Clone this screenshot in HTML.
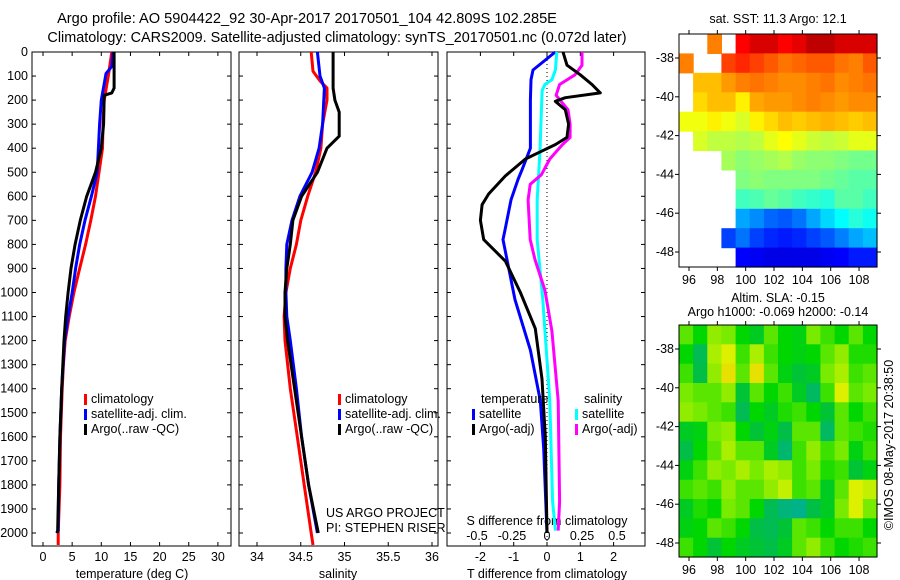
<!DOCTYPE html>
<html><head><meta charset="utf-8">
<style>
body{margin:0;background:#fff;}
svg{display:block;font-family:"Liberation Sans",sans-serif;}
text{font-size:12.5px;fill:#000;}
</style></head>
<body>
<svg id="chart" width="900" height="580" xmlns="http://www.w3.org/2000/svg">
<text x="307" y="23" text-anchor="middle" style="font-size:14.6px">Argo profile: AO 5904422_92 30-Apr-2017 20170501_104 42.809S 102.285E</text>
<text x="337" y="42" text-anchor="middle" style="font-size:14.4px">Climatology: CARS2009. Satellite-adjusted climatology: synTS_20170501.nc (0.072d later)</text>
<g id="g"></g>
</svg>
<script>
// ---------- data ----------
const depthTicks=[0,100,200,300,400,500,600,700,800,900,1000,1100,1200,1300,1400,1500,1600,1700,1800,1900,2000];
const tempTicks=[0,5,10,15,20,25,30];
const salTicks=[34,34.5,35,35.5,36];
const tdiffTicks=[-2,-1,0,1,2];
const sdiffTicks=[-0.5,-0.25,0,0.25,0.5];
const sdiffLabels=['-0.5','-0.25','0','0.25','0.5'];
const lonTicks=[96,98,100,102,104,106,108];
const latTicks=[-38,-40,-42,-44,-46,-48];

const tArgoDepth=[0,150,170,180,300,400,500,600,700,800,900,1000,1100,1200,1400,1600,1800,2000];
const tArgo=[12.2,12.2,11.8,10.5,10.4,10.0,9.0,7.5,6.4,5.5,4.8,4.3,3.9,3.6,3.2,2.9,2.7,2.5];
const tClimDepth=[0,100,200,300,400,500,600,700,800,900,1000,1100,1200,1300,1400,1600,1800,2000,2050];
const tClim=[11.8,11.2,10.5,10.3,10.2,9.6,9.0,8.2,7.3,6.3,5.3,4.5,3.8,3.5,3.3,3.0,2.9,2.6,2.6];
const tSatDepth=[0,60,90,200,300,400,500,600,700,800,900,1000,1100,1200,1400,1600,1800,1990,2000];
const tSat=[12.0,11.8,10.8,10.0,9.7,9.5,9.3,8.3,7.2,6.3,5.6,5.0,4.3,3.7,3.2,2.9,2.7,2.6,2.3];

const sArgoDepth=[0,150,200,250,350,400,500,600,700,800,900,1000,1100,1200,1400,1600,1800,2000];
const sArgo=[34.87,34.87,34.89,34.94,34.94,34.80,34.69,34.51,34.41,34.38,34.34,34.32,34.32,34.35,34.43,34.51,34.59,34.70];
const sClimDepth=[0,80,120,150,200,300,400,500,600,700,800,900,1000,1100,1200,1400,1600,1800,2000,2050];
const sClim=[34.62,34.64,34.72,34.80,34.80,34.75,34.73,34.67,34.58,34.50,34.45,34.38,34.33,34.31,34.32,34.38,34.46,34.54,34.62,34.64];
const sSatDepth=[0,100,150,300,400,500,600,700,800,900,1000,1100,1200,1400,1600,1800,2000];
const sSat=[34.69,34.72,34.77,34.75,34.71,34.63,34.49,34.40,34.34,34.33,34.33,34.34,34.38,34.45,34.51,34.59,34.69];

const dTArgoDepth=[0,55,95,135,170,190,205,240,300,355,385,415,445,515,590,635,700,780,870,1000,1150,1360,1600,2000];
const dTArgo=[0.48,0.6,1.0,1.35,1.6,0.55,0.25,0.55,0.65,0.6,0.25,-0.2,-0.65,-1.25,-1.75,-1.95,-2.0,-1.9,-1.25,-0.8,-0.35,-0.15,-0.05,0];
const dTSatDepth=[0,75,115,200,400,490,530,615,740,780,1030,1240,1450,1650,2000];
const dTSat=[0.25,-0.42,-0.48,-0.5,-0.5,-0.75,-0.87,-1.08,-1.26,-1.32,-0.96,-0.5,-0.2,-0.1,0];
const dSSatDepth=[0,75,115,135,160,410,615,780,1030,1450,1870,1990];
const dSSat=[0.07,0.06,0.035,-0.015,-0.035,-0.05,-0.07,-0.07,-0.03,0.02,0.04,0.06];
const dSArgoDepth=[0,55,95,135,180,240,300,355,385,445,510,550,615,780,865,990,1160,1450,1870,1990];
const dSArgo=[0.25,0.25,0.2,0.09,0.065,0.15,0.165,0.165,0.11,0.02,-0.04,-0.12,-0.135,-0.12,-0.085,-0.015,0.035,0.08,0.09,0.08];

const N=NaN;
const sstGrid=[
[N,N,13.5,N,14.5,14.8,14.8,14.5,14.7,15,15,14.8,14.8,14.8],
[13.5,N,N,14,14.2,14,13.8,13.6,13.7,13.8,13.8,13.6,13.5,13.8],
[N,13,13,13.3,13.5,13.6,13.5,13.4,13.4,13.5,13.6,13.4,13.5,13.6],
[N,12.8,13,13,12.6,13.2,13.3,13.3,13.4,13.5,13.4,13.3,13.4,13.4],
[12.4,12.4,12.6,12.4,12.2,12.6,12.8,13,12.9,13,13.1,13,12.9,13],
[N,12.2,12,12,11.9,12,12.3,12.5,12.3,12.1,12,12.1,12.3,12.3],
[N,N,N,11.8,11.6,11.7,11.8,11.9,11.7,11.6,11.6,11.5,11.4,11.4],
[N,N,N,N,11.5,11.6,11.5,11.5,11.5,11.5,11.4,11.3,11.2,11.2],
[N,N,N,N,11,11.1,11.3,11.2,11,10.9,10.8,11.2,11.2,11],
[N,N,N,N,9.8,9.6,9.3,9.2,9.4,9.8,10.2,10.5,10.8,10.6],
[N,N,N,9,9.4,9,8.8,8.7,8.8,9,9.2,9.5,9.8,10],
[N,N,N,N,8.5,8.4,8.3,8.3,8.3,8.3,8.4,8.5,8.7,8.7]];
const slaGrid=[
[0.3,0,0.5,0.4,0,-0.2,0.3,0,-0.1,0.4,0.2,0,0.3,0],
[0,-0.5,0.6,0.8,0.2,0.6,0.2,0,-0.1,0,0.3,0.5,0.1,0.1],
[0.2,-0.4,0.5,0.9,0.3,0.9,0.3,-0.1,-0.3,-0.2,0.4,0.6,0.2,0.3],
[0.4,0.3,0.3,0.5,-0.3,0.3,0,0.2,-0.2,-0.6,0.2,0.8,0.3,0.4],
[0.5,0.4,0.3,0.2,-0.5,0,-0.2,0.1,0.2,0,-0.3,0.3,0,0.2],
[-0.2,-0.1,0.4,0.5,0,-0.3,-0.1,-0.4,0.3,0.3,-0.6,0.3,0.2,0.1],
[-0.4,0,0.3,0.6,0.3,0.3,-0.2,-0.7,0.2,0.5,0.2,0.4,-0.1,0.2],
[-0.1,0.2,0.5,0.4,0.6,0.4,0.6,0.5,0.2,0.4,0.1,0.2,-0.3,-0.1],
[0.2,0.3,0.2,0.5,0.3,0.3,0.5,0.7,0.2,0.3,-0.2,0.3,0.8,0.7],
[-0.2,0.1,0,0.4,0.3,0,-0.5,-0.8,-0.9,-0.4,-0.2,0.4,0.8,0.4],
[-0.1,0,0.3,0.2,0,-0.4,-0.5,-0.3,0.3,0.2,0,0.2,0.2,0],
[0.2,0,-0.3,0,-0.2,-0.3,-0.4,-0.2,0.3,0.5,0.2,0,0.1,0.2]];

// ---------- helpers ----------
const NS='http://www.w3.org/2000/svg';
const G=document.getElementById('g');
function el(t,a,p){const e=document.createElementNS(NS,t);for(const k in a)e.setAttribute(k,a[k]);(p||G).appendChild(e);return e;}
function txt(x,y,s,anchor,name,size){const e=el('text',{x:x,y:y,'text-anchor':anchor||'middle'});if(size)e.style.fontSize=size+'px';e.textContent=s;


return e;}
const yD=d=>52+d*0.2405;
const yTop=52,yBot=546;
const xT=v=>43+v*5.83;
const xS=v=>257+(v-34)*87.5;
const xdT=v=>547+v*33.3;
const xdS=v=>547+v*140;

function panel(x0,x1,name){
  const r=el('rect',{x:x0,y:yTop,width:x1-x0,height:yBot-yTop,fill:'none',stroke:'#000','stroke-width':1});
  
  
  depthTicks.forEach(d=>{el('line',{x1:x0,x2:x0+4,y1:yD(d),y2:yD(d),stroke:'#000'});el('line',{x1:x1,x2:x1-4,y1:yD(d),y2:yD(d),stroke:'#000'});});
}
function line(xs,ds,fx,color,name){
  const p=xs.map((v,i)=>fx(v).toFixed(1)+','+yD(ds[i]).toFixed(1)).join(' ');
  const e=el('polyline',{points:p,fill:'none',stroke:color,'stroke-width':3,'stroke-linejoin':'round'});
  
  
}
function xticks(ticks,fx,x0,x1,labels,name){
  ticks.forEach((t,i)=>{const x=fx(t);el('line',{x1:x,x2:x,y1:yBot,y2:yBot-4,stroke:'#000'});el('line',{x1:x,x2:x,y1:yTop,y2:yTop+4,stroke:'#000'});
  txt(x,561,labels?labels[i]:String(t),'middle',name+'-tick-label');});
}

// Panel 1 temperature
panel(32,231,'temperature-panel');
depthTicks.forEach(d=>txt(28,yD(d)+4,String(d),'end','depth-tick-label'));
xticks(tempTicks,xT,32,231,null,'temperature');
txt(132,578,'temperature (deg C)','middle','temperature-axis-title');
line(tClim,tClimDepth,xT,'#ff0000','temp-climatology-line');
line(tSat,tSatDepth,xT,'#0000ff','temp-satellite-line');
line(tArgo,tArgoDepth,xT,'#000000','temp-argo-line');

// Panel 2 salinity
panel(239,438,'salinity-panel');
xticks(salTicks,xS,239,438,null,'salinity');
txt(338,578,'salinity','middle','salinity-axis-title');
line(sClim,sClimDepth,xS,'#ff0000','sal-climatology-line');
line(sSat,sSatDepth,xS,'#0000ff','sal-satellite-line');
line(sArgo,sArgoDepth,xS,'#000000','sal-argo-line');
txt(326,517,'US ARGO PROJECT','start','project-label');
txt(326,532,'PI: STEPHEN RISER','start','pi-label');

// legends
function legend(x,y,items,prefix){items.forEach((it,i)=>{const yy=y+i*15;
  const b=el('rect',{x:x,y:yy-9,width:3,height:11,fill:it[1]});
  
  
  txt(x+7,yy,it[0],'start',prefix+'-legend-entry');});}
legend(84,403,[['climatology','#ff0000'],['satellite-adj. clim.','#0000ff'],['Argo(..raw -QC)','#000']],'temp');
legend(338,403,[['climatology','#ff0000'],['satellite-adj. clim.','#0000ff'],['Argo(..raw -QC)','#000']],'sal');

// Panel 3 differences
panel(447,645,'difference-panel');
el('line',{x1:547,x2:547,y1:yTop,y2:yBot,stroke:'#000','stroke-dasharray':'1,3'});
xticks(tdiffTicks,xdT,447,645,null,'tdiff');
txt(547,578,'T difference from climatology','middle','tdiff-axis-title');
txt(547,525,'S difference from climatology','middle','sdiff-axis-title');
sdiffTicks.forEach((t,i)=>txt(xdS(t),540,sdiffLabels[i],'middle','sdiff-tick-label'));
line(dTSat,dTSatDepth,xdT,'#0000ff','tdiff-satellite-line');
line(dSSat,dSSatDepth,xdS,'#00ffff','sdiff-satellite-line');
line(dSArgo,dSArgoDepth,xdS,'#ff00ff','sdiff-argo-line');
line(dTArgo,dTArgoDepth,xdT,'#000000','tdiff-argo-line');
txt(481,403,'temperature','start','temperature-legend-header');
txt(584,403,'salinity','start','salinity-legend-header');
legend(472,418,[['satellite','#0000ff'],['Argo(-adj)','#000']],'tdiff');
legend(575,418,[['satellite','#00ffff'],['Argo(-adj)','#ff00ff']],'sdiff');

// ---------- maps ----------
function jet(t){t=Math.max(0,Math.min(1,t));
  const r=Math.max(0,Math.min(1,Math.min(4*t-1.5,-4*t+4.5)));
  const g=Math.max(0,Math.min(1,Math.min(4*t-0.5,-4*t+3.5)));
  const b=Math.max(0,Math.min(1,Math.min(4*t+0.5,-4*t+2.5)));
  return 'rgb('+Math.round(r*255)+','+Math.round(g*255)+','+Math.round(b*255)+')';}
const mx0=679,mx1=877;
const xLon=l=>689+(l-96)*14.17;
function map(y0,y1,grid,colorFn,name){
  const yLat=l=>y0+24+(-38-l)*19.4;
  const rows=grid.length,cols=grid[0].length,cw=(mx1-mx0)/cols,ch=(y1-y0)/rows;
  grid.forEach((row,ri)=>row.forEach((v,ci)=>{if(isNaN(v))return;
    const c=el('rect',{x:(mx0+ci*cw).toFixed(1),y:(y0+ri*ch).toFixed(1),width:(cw+0.6).toFixed(1),height:(ch+0.6).toFixed(1),fill:colorFn(v)});
    
    }));
  const r=el('rect',{x:mx0,y:y0,width:mx1-mx0,height:y1-y0,fill:'none',stroke:'#000'});
  
  
  lonTicks.forEach(l=>{const x=xLon(l);el('line',{x1:x,x2:x,y1:y1,y2:y1+4,stroke:'#000'});el('line',{x1:x,x2:x,y1:y0,y2:y0-4,stroke:'#000'});
    txt(x,y1+17,String(l),'middle',name+'-lon-label');});
  latTicks.forEach(l=>{const y=yLat(l);el('line',{x1:mx0,x2:mx0-4,y1:y,y2:y,stroke:'#000'});el('line',{x1:mx1,x2:mx1+4,y1:y,y2:y,stroke:'#000'});
    txt(674,y+4,String(l),'end',name+'-lat-label');});
}
map(34,267,sstGrid,v=>jet((v-7.5)/(15.5-7.5)),'sst-map');
function slaColor(v){const stops=[[-1,[0,175,150]],[-0.4,[0,190,70]],[0,[0,215,0]],[0.4,[120,235,0]],[0.8,[220,240,0]],[1,[240,210,0]]];
  for(let i=1;i<stops.length;i++){if(v<=stops[i][0]){const a=stops[i-1],b=stops[i],t=(v-a[0])/(b[0]-a[0]);
    return 'rgb('+a[1].map((c,k)=>Math.round(c+(b[1][k]-c)*t)).join(',')+')';}}
  return 'rgb(240,210,0)';}
map(325,557,slaGrid,slaColor,'sla-map');
txt(778,23,'sat. SST: 11.3 Argo: 12.1','middle','sst-map-title');
txt(778,302,'Altim. SLA: -0.15','middle','sla-map-title-1');
txt(778,316,'Argo h1000: -0.069 h2000: -0.14','middle','sla-map-title-2');
const credit=txt(0,0,'©IMOS 08-May-2017 20:38:50','middle','imos-credit');
credit.setAttribute('transform','translate(893,445) rotate(-90)');
</script>
</body></html>
